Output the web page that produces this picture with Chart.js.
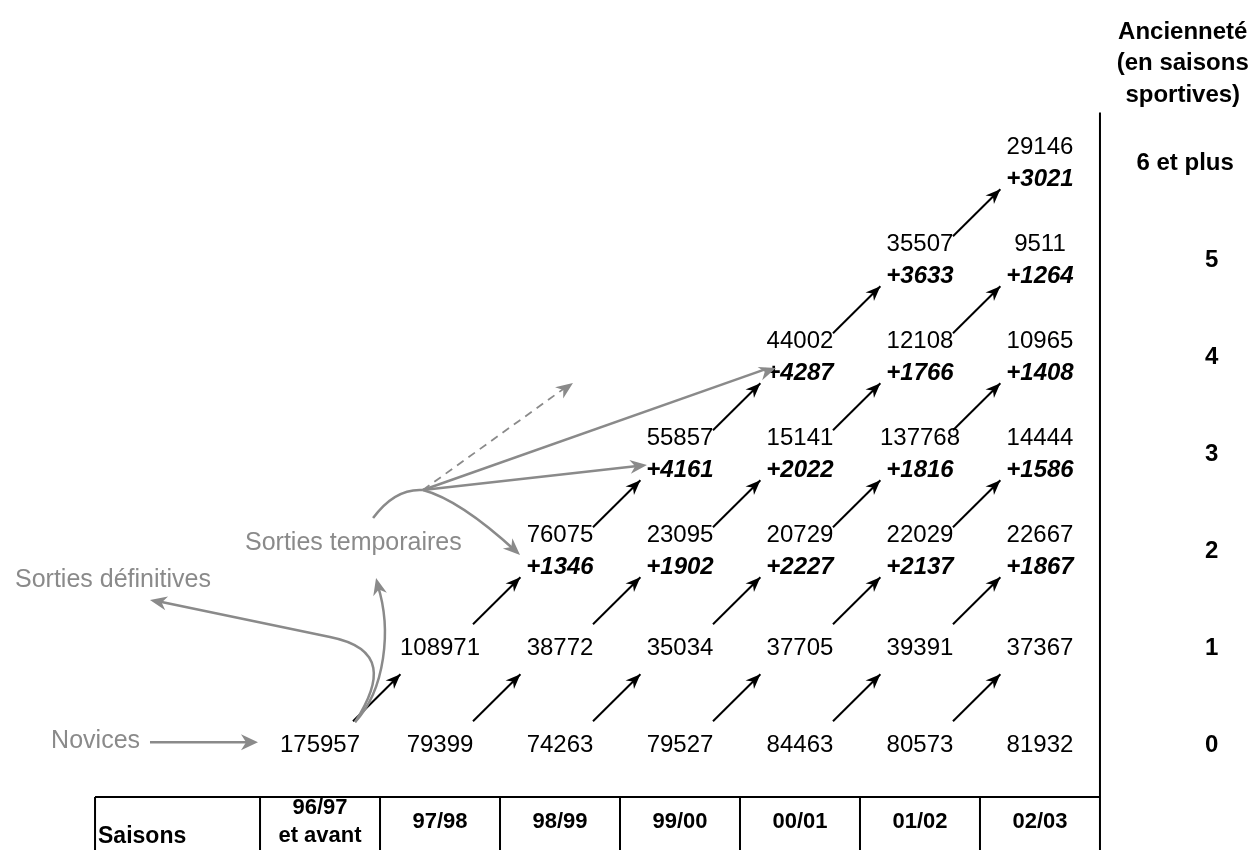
<!DOCTYPE html>
<html lang="fr">
<head>
<meta charset="utf-8">
<title>Ancienneté des licenciés par saison sportive</title>
<script src="https://cdn.jsdelivr.net/npm/chart.js@4/dist/chart.umd.min.js"></script>
<style>
  html, body { margin: 0; padding: 0; background: #fff; }
  .chart-container { position: relative; width: 1255px; height: 850px; }
</style>
</head>
<body>
<div class="chart-container"><canvas id="cohorts"></canvas></div>
<script>
// Saisons (colonnes) et ancienneté (lignes)
const seasons = [['96/97', 'et avant'], ['97/98'], ['98/99'], ['99/00'], ['00/01'], ['01/02'], ['02/03']];
const seniority = ['0', '1', '2', '3', '4', '5', '6 et plus'];

// effectifs par ancienneté, une liste par ligne (null = case vide)
const row0 = [175957, 79399, 74263, 79527, 84463, 80573, 81932];
const row1 = [null, 108971, 38772, 35034, 37705, 39391, 37367];
const row2 = [null, null, 76075, 23095, 20729, 22029, 22667];
const row3 = [null, null, null, 55857, 15141, 137768, 14444];
const row4 = [null, null, null, null, 44002, 12108, 10965];
const row5 = [null, null, null, null, null, 35507, 9511];
const row6 = [null, null, null, null, null, null, 29146];

// retours après sortie temporaire
const back2 = [null, null, 1346, 1902, 2227, 2137, 1867];
const back3 = [null, null, null, 4161, 2022, 1816, 1586];
const back4 = [null, null, null, null, 4287, 1766, 1408];
const back5 = [null, null, null, null, null, 3633, 1264];
const back6 = [null, null, null, null, null, null, 3021];

const rows = [row0, row1, row2, row3, row4, row5, row6];
const backs = [null, null, back2, back3, back4, back5, back6];

const FONT = '"Liberation Sans", Arial, sans-serif';
const GREY = '#8a8a8a';

// one point per filled cell
const cellPoints = [];
rows.forEach((row, r) => row.forEach((v, c) => {
  if (v !== null) cellPoints.push({ x: c, y: r, v: v, back: backs[r] ? backs[r][c] : null });
}));

// black arrows: cell (c, r) -> cell (c+1, r+1)
const arrowSets = [];
rows.forEach((row, r) => {
  if (r === rows.length - 1) return;
  row.forEach((v, c) => {
    if (v === null || c === row.length - 1) return;
    arrowSets.push({
      type: 'line',
      data: [{ x: c + 0.275, y: r + 0.245 }, { x: c + 0.67, y: r + 0.73 }],
      borderColor: '#000',
      borderWidth: 2,
      pointRadius: 0,
      arrow: true
    });
  });
});

function arrowHead(ctx, x0, y0, x1, y1, color, len, half) {
  const a = Math.atan2(y1 - y0, x1 - x0);
  ctx.save();
  ctx.fillStyle = color;
  ctx.beginPath();
  ctx.moveTo(x1, y1);
  ctx.lineTo(x1 - len * Math.cos(a) + half * Math.sin(a), y1 - len * Math.sin(a) - half * Math.cos(a));
  ctx.lineTo(x1 - len * 0.7 * Math.cos(a), y1 - len * 0.7 * Math.sin(a));
  ctx.lineTo(x1 - len * Math.cos(a) - half * Math.sin(a), y1 - len * Math.sin(a) + half * Math.cos(a));
  ctx.closePath();
  ctx.fill();
  ctx.restore();
}

const diagramPlugin = {
  id: 'diagram',
  afterDatasetsDraw(chart) {
    const ctx = chart.ctx;
    const xs = chart.scales.x, ys = chart.scales.y;
    const X = v => xs.getPixelForValue(v);
    const Y = v => ys.getPixelForValue(v);

    // arrow heads on the black arrows
    chart.data.datasets.forEach((ds, i) => {
      if (!ds.arrow) return;
      const pts = chart.getDatasetMeta(i).data;
      arrowHead(ctx, pts[0].x, pts[0].y, pts[1].x, pts[1].y, '#000', 15, 6);
    });

    ctx.save();
    ctx.textBaseline = 'middle';
    ctx.textAlign = 'center';
    ctx.fillStyle = '#000';

    // numbers
    cellPoints.forEach(p => {
      if (p.back !== null) {
        ctx.font = '24px ' + FONT;
        ctx.fillText(String(p.v), X(p.x), Y(p.y + 0.165));
        ctx.font = 'italic bold 24px ' + FONT;
        ctx.fillText('+' + p.back, X(p.x), Y(p.y - 0.165));
      } else {
        ctx.font = '24px ' + FONT;
        ctx.fillText(String(p.v), X(p.x), Y(p.y));
      }
    });

    // seniority labels on the right
    ctx.font = 'bold 24px ' + FONT;
    seniority.forEach((s, r) => ctx.fillText(s, X(s.length > 1 ? 7.21 : 7.43), Y(r)));
    ['Ancienneté', '(en saisons', 'sportives)'].forEach((s, k) =>
      ctx.fillText(s, X(7.19), Y(7.35 - k * 0.325)));

    // right rule + season table
    ctx.strokeStyle = '#000';
    ctx.lineWidth = 2;
    ctx.beginPath();
    ctx.moveTo(X(6.5), Y(6.52));
    ctx.lineTo(X(6.5), Y(-1.2));
    ctx.moveTo(X(-1.875), Y(-0.536));
    ctx.lineTo(X(6.5), Y(-0.536));
    ctx.moveTo(X(-1.875), Y(-0.536));
    ctx.lineTo(X(-1.875), Y(-1.2));
    for (let c = 0; c < seasons.length; c++) {
      ctx.moveTo(X(c - 0.5), Y(-0.536));
      ctx.lineTo(X(c - 0.5), Y(-1.2));
    }
    ctx.stroke();

    ctx.font = 'bold 22px ' + FONT;
    seasons.forEach((lines, c) => {
      if (lines.length === 2) {
        ctx.fillText(lines[0], X(c), Y(-0.65));
        ctx.fillText(lines[1], X(c), Y(-0.94));
      } else {
        ctx.fillText(lines[0], X(c), Y(-0.795));
      }
    });
    ctx.textAlign = 'left';
    ctx.font = 'bold 23px ' + FONT;
    ctx.fillText('Saisons', X(-1.85), Y(-0.94));

    // grey flows
    ctx.fillStyle = GREY;
    ctx.strokeStyle = GREY;
    ctx.lineWidth = 2.5;
    ctx.font = '25px ' + FONT;
    ctx.textAlign = 'right';
    ctx.fillText('Novices', X(-1.5), Y(0.04));
    ctx.textAlign = 'left';
    ctx.fillText('Sorties temporaires', X(-0.625), Y(2.08));
    ctx.fillText('Sorties définitives', X(-2.542), Y(1.70));

    ctx.beginPath();
    ctx.moveTo(X(-1.417), Y(0.03));
    ctx.lineTo(X(-0.6), Y(0.03));
    ctx.stroke();
    arrowHead(ctx, X(-1.417), Y(0.03), X(-0.517), Y(0.03), GREY, 17, 8);

    // vers sorties définitives
    ctx.beginPath();
    ctx.moveTo(X(0.292), Y(0.237));
    ctx.bezierCurveTo(X(0.517), Y(0.67), X(0.542), Y(1.0), X(0.083), Y(1.113));
    ctx.lineTo(X(-1.34), Y(1.48));
    ctx.stroke();
    arrowHead(ctx, X(0.083), Y(1.113), X(-1.417), Y(1.495), GREY, 17, 7);

    // vers sorties temporaires
    ctx.beginPath();
    ctx.moveTo(X(0.292), Y(0.237));
    ctx.bezierCurveTo(X(0.542), Y(0.567), X(0.6), Y(1.186), X(0.48), Y(1.65));
    ctx.stroke();
    arrowHead(ctx, X(0.55), Y(1.3), X(0.467), Y(1.722), GREY, 17, 7);

    // retours
    const hubX = 0.858, hubY = 2.629;
    ctx.beginPath();
    ctx.moveTo(X(0.442), Y(2.34));
    ctx.quadraticCurveTo(X(0.625), Y(2.649), X(hubX), Y(hubY));
    ctx.stroke();

    const straight = [[2.725, 2.887], [3.8, 3.887]];
    straight.forEach(([tx, ty]) => {
      ctx.beginPath();
      ctx.moveTo(X(hubX), Y(hubY));
      ctx.lineTo(X(tx - 0.08), Y(ty - 0.01));
      ctx.stroke();
      arrowHead(ctx, X(hubX), Y(hubY), X(tx), Y(ty), GREY, 17, 7);
    });

    ctx.save();
    ctx.lineWidth = 1.8;
    ctx.setLineDash([8, 6]);
    ctx.beginPath();
    ctx.moveTo(X(hubX), Y(hubY));
    ctx.lineTo(X(2.05), Y(3.69));
    ctx.stroke();
    ctx.restore();
    arrowHead(ctx, X(hubX), Y(hubY), X(2.108), Y(3.732), GREY, 17, 7);

    ctx.beginPath();
    ctx.moveTo(X(hubX), Y(hubY));
    ctx.quadraticCurveTo(X(1.167), Y(2.526), X(1.63), Y(2.0));
    ctx.stroke();
    arrowHead(ctx, X(1.37), Y(2.3), X(1.667), Y(1.959), GREY, 17, 7);

    ctx.restore();
  }
};

new Chart(document.getElementById('cohorts').getContext('2d'), {
  type: 'scatter',
  data: {
    datasets: [
      { label: 'Effectifs', data: cellPoints, pointRadius: 0, pointHoverRadius: 0 },
      ...arrowSets
    ]
  },
  options: {
    responsive: true,
    maintainAspectRatio: false,
    animation: false,
    events: [],
    layout: { padding: 0 },
    plugins: {
      legend: { display: false },
      tooltip: { enabled: false }
    },
    scales: {
      x: { type: 'linear', display: false, min: -2.667, max: 7.792 },
      y: { type: 'linear', display: false, min: -1.082, max: 7.68 }
    }
  },
  plugins: [diagramPlugin]
});
</script>
</body>
</html>
